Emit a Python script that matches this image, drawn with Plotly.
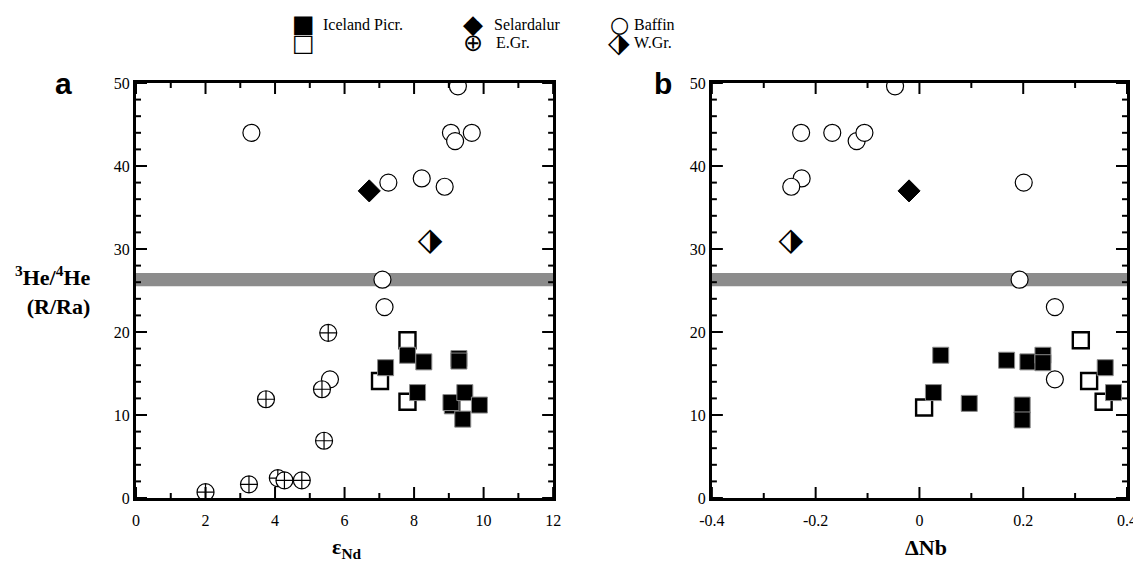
import plotly.graph_objects as go

# ---------------- data ----------------
# Panel a: eps_Nd vs 3He/4He
baffin_end = [9.26, 3.32, 9.06, 9.18, 9.66, 7.26, 8.22, 8.88, 7.09, 7.15, 5.58]
baffin_he_a = [49.6, 44.0, 44.0, 43.0, 44.0, 38.0, 38.5, 37.5, 26.3, 23.0, 14.3]
ice_open_end = [7.81, 7.02, 7.81]
ice_open_he_a = [19.0, 14.1, 11.6]
ice_picr_end = [7.18, 7.81, 8.28, 9.29, 9.29, 8.10, 9.10, 9.06, 9.46, 9.88, 9.40]
ice_picr_he_a = [15.7, 17.2, 16.4, 16.8, 16.5, 12.7, 11.1, 11.5, 12.7, 11.2, 9.5]
egr_end = [5.53, 5.35, 3.74, 5.41, 2.00, 3.25, 4.08, 4.27, 4.77]
egr_he = [19.9, 13.1, 11.9, 6.9, 0.7, 1.65, 2.4, 2.13, 2.13]
sel_end = [6.71]
sel_he_a = [37.0]
wgr_end = [8.46]
wgr_he_a = [30.8]

# Panel b: delta Nb vs 3He/4He
baffin_dnb = [-0.047, -0.228, -0.168, -0.121, -0.106, 0.201, -0.227, -0.247, 0.193, 0.261, 0.261]
baffin_he_b = [49.6, 44.0, 44.0, 43.0, 44.0, 38.0, 38.5, 37.5, 26.3, 23.0, 14.3]
ice_open_dnb = [0.009, 0.311, 0.327, 0.355]
ice_open_he_b = [10.9, 19.0, 14.1, 11.6]
ice_picr_dnb = [0.041, 0.027, 0.096, 0.168, 0.209, 0.238, 0.238, 0.198, 0.198, 0.358, 0.374]
ice_picr_he_b = [17.2, 12.7, 11.4, 16.6, 16.4, 17.2, 16.3, 11.2, 9.4, 15.7, 12.7]
sel_dnb = [-0.020]
sel_he_b = [37.0]
wgr_dnb = [-0.248]
wgr_he_b = [30.8]

# reference band (grey bar)
band_low = 25.5
band_high = 27.1

# ticks
y_ticks = [0, 10, 20, 30, 40, 50]
y_minor = [2, 4, 6, 8, 12, 14, 16, 18, 22, 24, 26, 28, 32, 34, 36, 38, 42, 44, 46, 48]
a_xticks = [0, 2, 4, 6, 8, 10, 12]
a_xminor = [1, 3, 5, 7, 9, 11]
b_xticks = [-0.4, -0.2, 0, 0.2, 0.4]
b_xminor = [-0.3, -0.1, 0.1, 0.3]
b_xticklabels = ["-0.4", "-0.2", "0", "0.2", "0.4"]

# ---------------- figure ----------------
OFF = 8  # default page margin around the plot div
W, H = 1141 - OFF, 562 - OFF
ML = 136 - OFF
MT = 83 - OFF
MR = W - (1126.7 - OFF)
MB = H - (498 - OFF)
PW = W - ML - MR
PH = H - MT - MB


def px_x(px):
    return (px - OFF - ML) / PW


def px_y(py):
    return (H - MB - (py - OFF)) / PH


SERIF = "Liberation Serif, Times New Roman, serif"
SANS = "Liberation Sans, Arial, sans-serif"

fig = go.Figure()


def add_panel(xa, ya, bx, by, ox, oy, fx, fy, sx, sy, wx, wy, egr=None):
    fig.add_trace(go.Scatter(x=bx, y=by, mode="markers", xaxis=xa, yaxis=ya,
                             marker=dict(symbol="circle", size=17, color="white",
                                         line=dict(color="black", width=1.2)),
                             showlegend=False, name="Baffin"))
    fig.add_trace(go.Scatter(x=ox, y=oy, mode="markers", xaxis=xa, yaxis=ya,
                             marker=dict(symbol="square", size=16, color="white",
                                         line=dict(color="black", width=2.4)),
                             showlegend=False, name="Iceland"))
    fig.add_trace(go.Scatter(x=fx, y=fy, mode="markers", xaxis=xa, yaxis=ya,
                             marker=dict(symbol="square", size=16, color="black",
                                         line=dict(color="#8a8a8a", width=1)),
                             showlegend=False, name="Iceland Picr."))
    if egr is not None:
        fig.add_trace(go.Scatter(x=egr[0], y=egr[1], mode="markers", xaxis=xa, yaxis=ya,
                                 marker=dict(symbol="circle-cross", size=17, color="white",
                                             line=dict(color="black", width=1.2)),
                                 showlegend=False, name="E.Gr."))
    fig.add_trace(go.Scatter(x=sx, y=sy, mode="markers", xaxis=xa, yaxis=ya,
                             marker=dict(symbol="diamond", size=17, color="black",
                                         line=dict(color="black", width=1)),
                             showlegend=False, name="Selardalur"))
    fig.add_trace(go.Scatter(x=wx, y=wy, mode="text", xaxis=xa, yaxis=ya, text=["⬗"] * len(wx),
                             textposition="middle center",
                             textfont=dict(family="DejaVu Sans", size=32, color="black"),
                             showlegend=False, name="W.Gr."))


add_panel("x", "y", baffin_end, baffin_he_a, ice_open_end, ice_open_he_a,
          ice_picr_end, ice_picr_he_a, sel_end, sel_he_a, wgr_end, wgr_he_a,
          egr=(egr_end, egr_he))
add_panel("x2", "y2", baffin_dnb, baffin_he_b, ice_open_dnb, ice_open_he_b,
          ice_picr_dnb, ice_picr_he_b, sel_dnb, sel_he_b, wgr_dnb, wgr_he_b)

shapes = []
# grey band on both panels
for xr, yr in (("x domain", "y"), ("x2 domain", "y2")):
    shapes.append(dict(type="rect", xref=xr, yref=yr, x0=0, x1=1, y0=band_low, y1=band_high,
                       fillcolor="#8c8c8c", line=dict(width=0), layer="below"))

# inward-pointing tick marks on all four sides of each panel
MAJ, MIN = 11, 5
panel_w = {"x": 553 - 136, "x2": 1126.7 - 711.7}
tick_line = dict(color="black", width=2)


def add_ticks(xa, ya, xmaj, xmin):
    fy_maj, fy_min = MAJ / PH, MIN / PH
    fx_maj, fx_min = MAJ / panel_w[xa], MIN / panel_w[xa]
    for vals, ln in ((xmaj, fy_maj), (xmin, fy_min)):
        for v in vals:
            shapes.append(dict(type="line", xref=xa, yref=ya + " domain", x0=v, x1=v,
                               y0=0, y1=ln, line=tick_line, layer="above"))
            shapes.append(dict(type="line", xref=xa, yref=ya + " domain", x0=v, x1=v,
                               y0=1 - ln, y1=1, line=tick_line, layer="above"))
    for vals, ln in ((y_ticks, fx_maj), (y_minor, fx_min)):
        for v in vals:
            shapes.append(dict(type="line", xref=xa + " domain", yref=ya, x0=0, x1=ln,
                               y0=v, y1=v, line=tick_line, layer="above"))
            shapes.append(dict(type="line", xref=xa + " domain", yref=ya, x0=1 - ln, x1=1,
                               y0=v, y1=v, line=tick_line, layer="above"))


add_ticks("x", "y", a_xticks, a_xminor)
add_ticks("x2", "y2", b_xticks, b_xminor)

tf = dict(family=SERIF, size=16, color="black")
common = dict(showline=True, linecolor="black", linewidth=3, showgrid=False, zeroline=False,
              mirror=True, ticks="", tickfont=tf, layer="above traces")

fig.update_layout(
    width=W, height=H,
    margin=dict(l=ML, r=MR, t=MT, b=MB, autoexpand=False),
    paper_bgcolor="white", plot_bgcolor="white",
    showlegend=False,
    shapes=shapes,
    xaxis=dict(domain=[0, px_x(553)], range=[0, 12], tickmode="array", tickvals=a_xticks,
               ticklabelstandoff=6, anchor="y", **common),
    yaxis=dict(domain=[0, 1], range=[0, 50], tickmode="array", tickvals=y_ticks,
               ticksuffix="  ", anchor="x", **common),
    xaxis2=dict(domain=[px_x(711.7), 1], range=[-0.4, 0.4], tickmode="array",
                tickvals=b_xticks, ticktext=b_xticklabels,
                ticklabelstandoff=6, anchor="y2", **common),
    yaxis2=dict(domain=[0, 1], range=[0, 50], tickmode="array", tickvals=y_ticks,
                ticksuffix="  ", anchor="x2", **common),
)

annotations = []
# axis titles
annotations.append(dict(text="<b>ε<sub>Nd</sub></b>", xref="paper", yref="paper",
                        x=px_x(347), y=px_y(548), xanchor="center", yanchor="middle",
                        showarrow=False, font=dict(family=SERIF, size=22, color="black")))
annotations.append(dict(text="<b>ΔNb</b>", xref="paper", yref="paper",
                        x=px_x(926), y=px_y(547), xanchor="center", yanchor="middle",
                        showarrow=False, font=dict(family=SERIF, size=22, color="black")))
annotations.append(dict(text="<b><sup>3</sup>He/<sup>4</sup>He<br>(R/Ra)</b>", xref="paper", yref="paper",
                        x=px_x(93), y=px_y(290), xanchor="right", yanchor="middle", align="right",
                        showarrow=False, font=dict(family=SERIF, size=22, color="black")))
# panel labels
annotations.append(dict(text="<b>a</b>", xref="paper", yref="paper", x=px_x(64), y=px_y(84),
                        xanchor="center", yanchor="middle", showarrow=False,
                        font=dict(family=SANS, size=30, color="black")))
annotations.append(dict(text="<b>b</b>", xref="paper", yref="paper", x=px_x(663), y=px_y(84),
                        xanchor="center", yanchor="middle", showarrow=False,
                        font=dict(family=SANS, size=30, color="black")))

# legend (glyph + label)
legend_items = [
    ("■", 303, 24, 24, "Iceland Picr.", 322),
    ("□", 303, 43, 24, "", 322),
    ("◆", 473, 24, 26, "Selardalur", 493),
    ("⊕", 473, 43, 24, "E.Gr.", 495),
    ("○", 619, 24, 22, "Baffin", 633),
    ("⬗", 619, 43, 28, "W.Gr.", 633),
]
for glyph, gx, gy, gs, label, tx in legend_items:
    annotations.append(dict(text=glyph, xref="paper", yref="paper", x=px_x(gx), y=px_y(gy),
                            xanchor="center", yanchor="middle", showarrow=False, borderpad=0,
                            font=dict(family="DejaVu Sans", size=gs, color="black")))
    if label:
        annotations.append(dict(text=label, xref="paper", yref="paper", x=px_x(tx), y=px_y(gy),
                                xanchor="left", yanchor="middle", showarrow=False, borderpad=0,
                                font=dict(family=SERIF, size=16, color="black")))

fig.update_layout(annotations=annotations)

fig.write_html("out.html")
